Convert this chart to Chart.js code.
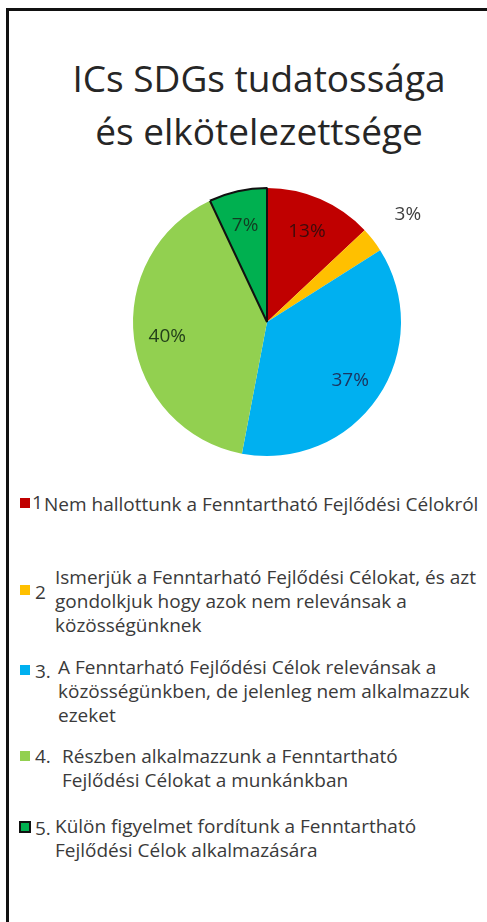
<!DOCTYPE html>
<html>
<head>
<meta charset="utf-8">
<title>ICs SDGs tudatossága és elkötelezettsége</title>
<script src="https://cdn.jsdelivr.net/npm/chart.js"></script>
<style>
    html, body { margin: 0; padding: 0; background: #fff; }
    body { width: 487px; height: 922px; position: relative; overflow: hidden;
           font-family: 'Open Sans', 'Noto Sans', sans-serif; color: #3a3a3a; }
    .frame { position: absolute; left: 6px; top: 8px; right: -10px; bottom: -10px;
             border-left: 3px solid #111; border-top: 3px solid #111; }
    h1 { position: absolute; left: 0; width: 518px; top: 51px; margin: 0; text-align: center;
         font-weight: normal; font-size: 37px; line-height: 53px; color: #262626; }
    .chart-box { position: absolute; left: 0; top: 170px; width: 487px; height: 300px; }

    /* legend rows */
    .item { position: absolute; left: 0; width: 487px; font-size: 19px; line-height: 24px; }
    .item .sw { position: absolute; left: 20px; width: 10px; height: 10px; box-sizing: border-box; }
    .item .num { position: absolute; left: 33px; }
    .item .txt { position: absolute; white-space: pre-line; }
    .item:nth-child(1) { top: 492px; }
    .item:nth-child(1) .sw { top: 6px; }
    .item:nth-child(1) .num { top: -2px; left: 32px; }
    .item:nth-child(1) .txt { left: 44px; top: 0; }
    .item:nth-child(2) { top: 565px; }
    .item:nth-child(2) .sw { top: 20px; }
    .item:nth-child(2) .num { top: 15px; left: 35px; }
    .item:nth-child(2) .txt { left: 55px; top: 0; }
    .item:nth-child(3) { top: 655px; }
    .item:nth-child(3) .sw { top: 10px; }
    .item:nth-child(3) .num { top: 4px; left: 35px; }
    .item:nth-child(3) .txt { left: 58px; top: 0; }
    .item:nth-child(4) { top: 744px; }
    .item:nth-child(4) .sw { top: 7px; }
    .item:nth-child(4) .num { top: 0; left: 35px; }
    .item:nth-child(4) .txt { left: 62px; top: 0; }
    .item:nth-child(5) { top: 814px; }
    .item:nth-child(5) .sw { top: 7px; left: 19px; width: 12px; height: 12px; border: 2px solid #111; }
    .item:nth-child(5) .num { top: 2px; left: 35px; }
    .item:nth-child(5) .txt { left: 55px; top: 0; }
</style>
</head>
<body>
<div class="frame"></div>
<h1>ICs SDGs tudatossága<br>és elkötelezettsége</h1>
<div class="chart-box"><canvas id="pie"></canvas></div>
<div id="legend"></div>

<script>
// chart data
const categories = [
    'Nem hallottunk a Fenntartható Fejlődési Célokról',
    'Ismerjük a Fenntarható Fejlődési Célokat, és azt\ngondolkjuk hogy azok nem relevánsak a\nközösségünknek',
    'A Fenntarható Fejlődési Célok relevánsak a\nközösségünkben, de jelenleg nem alkalmazzuk\nezeket',
    'Részben alkalmazzunk a Fenntartható\nFejlődési Célokat a munkánkban',
    'Külön figyelmet fordítunk a Fenntartható\nFejlődési Célok alkalmazására'
];
const legendNumbers = ['1', '2', '3.', '4.', '5.'];
const shares = [13, 3, 37, 40, 7];
const sliceColors = ['#C00000', '#FFC000', '#00B0F0', '#92D050', '#00B050'];
const labelColors = ['#3b0b0b', '#404040', '#1b3560', '#23401a', '#123d22'];

// percentage labels: inside the slice, small ones go outside
const pctLabels = {
    id: 'pctLabels',
    afterDatasetsDraw(chart) {
        const ctx = chart.ctx;
        const meta = chart.getDatasetMeta(0);
        const total = shares.reduce((a, b) => a + b, 0);
        ctx.save();
        ctx.font = '19px "Open Sans", sans-serif';
        ctx.textAlign = 'center';
        ctx.textBaseline = 'middle';
        meta.data.forEach((arc, i) => {
            const p = arc.getProps(['x', 'y', 'startAngle', 'endAngle', 'outerRadius'], true);
            const mid = (p.startAngle + p.endAngle) / 2;
            const small = shares[i] / total < 0.05;
            const r = p.outerRadius * (small ? 1.33 : 0.75);
            ctx.fillStyle = labelColors[i];
            ctx.fillText(Math.round(shares[i] / total * 100) + '%', p.x + Math.cos(mid) * r, p.y + Math.sin(mid) * r + 2);
        });
        ctx.restore();
    }
};

const chart = new Chart(document.getElementById('pie'), {
    type: 'pie',
    data: {
        labels: categories,
        datasets: [{
            data: shares,
            backgroundColor: sliceColors,
            borderColor: ['#fff', '#fff', '#fff', '#fff', '#111'],
            borderWidth: [0, 0, 0, 0, 2]
        }]
    },
    options: {
        responsive: true,
        maintainAspectRatio: false,
        animation: false,
        layout: { padding: { left: 132, right: 85, top: 17, bottom: 13 } },
        plugins: {
            legend: { display: false },
            tooltip: { enabled: false }
        }
    },
    plugins: [pctLabels]
});

// html legend built from the chart's own labels
const legendEl = document.getElementById('legend');
chart.data.labels.forEach((lab, i) => {
    const row = document.createElement('div');
    row.className = 'item';
    row.innerHTML = '<span class="sw"></span><span class="num"></span><span class="txt"></span>';
    row.querySelector('.sw').style.background = sliceColors[i];
    row.querySelector('.num').textContent = legendNumbers[i];
    row.querySelector('.txt').textContent = lab;
    legendEl.appendChild(row);
});
</script>
</body>
</html>
